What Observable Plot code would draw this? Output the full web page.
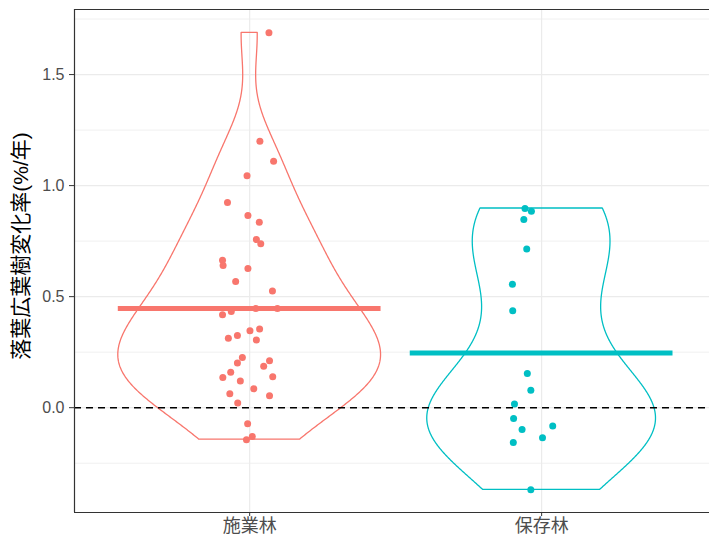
<!DOCTYPE html>
<html>
<head>
<meta charset="utf-8">
<script src="https://cdn.jsdelivr.net/npm/d3@7"></script>
<script src="https://cdn.jsdelivr.net/npm/@observablehq/plot@0.6"></script>
<style>
  html, body { margin: 0; padding: 0; background: white; }
</style>
</head>
<body>
<div id="chart"></div>
<script>
// ---- data ----
const groups = ["施業林", "保存林"];
const colours = ["#F8766D", "#00BFC4"];
const yTitle = "落葉広葉樹変化率(%/年)";

const valuesA = [1.688, 1.200, 1.110, 1.044, 0.924, 0.865, 0.835, 0.757, 0.738, 0.664,
  0.640, 0.627, 0.568, 0.525, 0.447, 0.447, 0.418, 0.433, 0.354, 0.346,
  0.325, 0.313, 0.305, 0.226, 0.201, 0.211, 0.186, 0.160, 0.136, 0.139,
  0.120, 0.085, 0.063, 0.054, 0.021, -0.072, -0.130, -0.144];
const jitterA = [0.066, 0.035, 0.082, -0.009, -0.076, -0.006, 0.033, 0.023, 0.038, -0.093,
  -0.091, -0.006, -0.048, 0.078, 0.021, 0.095, -0.093, -0.063, 0.034, 0.001,
  -0.042, -0.073, 0.023, -0.025, -0.042, 0.068, 0.048, -0.065, -0.092, 0.079,
  -0.032, 0.014, -0.068, 0.068, -0.041, -0.007, 0.009, -0.011];

const valuesB = [0.897, 0.885, 0.847, 0.715, 0.556, 0.436, 0.154, 0.078, 0.017, -0.049,
  -0.082, -0.098, -0.135, -0.157, -0.370];
const jitterB = [-0.057, -0.035, -0.061, -0.051, -0.100, -0.099, -0.049, -0.037, -0.093, -0.096,
  0.038, -0.067, 0.003, -0.097, -0.037];

const means = [0.447, 0.246];
const yTicks = [0, 0.5, 1.0, 1.5];
const yMinor = [-0.25, 0.25, 0.75, 1.25, 1.75];
const xTicks = [1, 2];

// ---- derived tables ----
const series = [valuesA, valuesB];
const jitters = [jitterA, jitterB];

const points = [];
series.forEach((vals, gi) => vals.forEach((v, i) => points.push({g: groups[gi], gi: gi + 1, v, jit: jitters[gi][i]})));

function quantile7(sorted, p) {
  const h = (sorted.length - 1) * p, lo = Math.floor(h);
  return sorted[lo] + (h - lo) * ((sorted[Math.min(lo + 1, sorted.length - 1)]) - sorted[lo]);
}
function bwNrd0(vals) {
  const s = vals.slice().sort((a, b) => a - b);
  const sd = d3.deviation(vals);
  const iqr = quantile7(s, 0.75) - quantile7(s, 0.25);
  const lo = Math.min(sd, iqr / 1.34);
  return 0.9 * lo * Math.pow(vals.length, -0.2);
}
const dens = series.map(vals => {
  const bw = bwNrd0(vals);
  const lo = d3.min(vals), hi = d3.max(vals), n = 512;
  const out = [];
  for (let k = 0; k < n; k++) {
    const y = lo + (hi - lo) * k / (n - 1);
    let s = 0;
    for (const x of vals) { const z = (y - x) / bw; s += Math.exp(-0.5 * z * z); }
    out.push({y, d: s / (vals.length * bw * Math.sqrt(2 * Math.PI))});
  }
  return out;
});
const maxD = d3.max(dens.flat(), d => d.d);
const violin = [];
dens.forEach((arr, gi) => arr.forEach(({y, d}) => {
  const hw = d / maxD * 0.45;
  violin.push({g: groups[gi], y, x1: gi + 1 - hw, x2: gi + 1 + hw});
}));
const meanRows = means.map((m, gi) => ({g: groups[gi], m, x1: gi + 1 - 0.45, x2: gi + 1 + 0.45}));

const colourScale = {domain: groups, range: colours};

const chart = Plot.plot({
  width: 709,
  height: 539,
  marginTop: 9,
  marginBottom: 27,
  marginLeft: 74,
  marginRight: 0,
  style: {fontFamily: "'Liberation Sans', 'Noto Sans CJK JP', sans-serif", background: "white", overflow: "visible"},
  x: {domain: [0.4, 2.575], axis: null},
  y: {domain: [-0.472, 1.793], axis: null},
  color: colourScale,
  marks: [
    Plot.gridY(yMinor, {stroke: "#F0F0F0", strokeOpacity: 1, strokeWidth: 1}),
    Plot.gridY(yTicks, {stroke: "#EBEBEB", strokeOpacity: 1, strokeWidth: 1.2}),
    Plot.gridX(xTicks, {stroke: "#EBEBEB", strokeOpacity: 1, strokeWidth: 1.2}),
    Plot.areaX(violin, {y: "y", x1: "x1", x2: "x2", z: "g", stroke: "g", fill: "none", strokeWidth: 1.3}),
    Plot.ruleY([0], {stroke: "black", strokeWidth: 1.6, strokeDasharray: "7,5"}),
    Plot.dot(points, {x: d => d.gi + d.jit, y: "v", fill: "g", r: 3.5, stroke: null}),
    Plot.ruleY(meanRows, {y: "m", x1: "x1", x2: "x2", stroke: "g", strokeWidth: 5}),
    Plot.ruleX([0.4], {stroke: "#333333", strokeWidth: 1.2}),
    Plot.ruleY([-0.472, 1.793], {stroke: "#333333", strokeWidth: 1.2}),
    Plot.axisY(yTicks, {tickSize: 5, tickPadding: 5, fontSize: 16, stroke: "#333333", fill: "#4D4D4D", tickFormat: d3.format(".1f"), label: null}),
    Plot.axisX(xTicks, {tickSize: 4, tickPadding: 3, fontSize: 18, stroke: "#333333", fill: "#4D4D4D", tickFormat: d => groups[d - 1], label: null}),
    Plot.text([yTitle], {frameAnchor: "left", textAnchor: "middle", dx: -53, dy: -15, rotate: -90, fontSize: 21, fill: "black"})
  ]
});
document.getElementById("chart").appendChild(chart);
</script>
</body>
</html>
